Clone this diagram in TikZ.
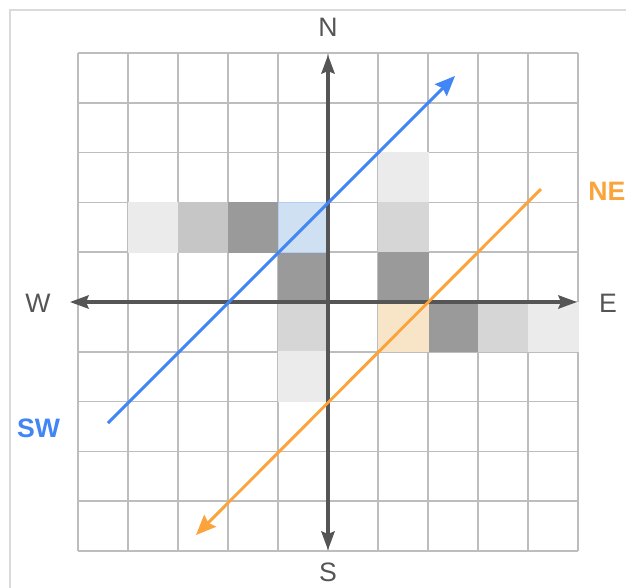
\documentclass[tikz,border=0pt]{standalone}
\usepackage{fontspec}
\setmainfont{Liberation Sans}
\usetikzlibrary{arrows.meta}
\definecolor{axisgray}{HTML}{555555}
\definecolor{gridc}{HTML}{BDBDBD}
\definecolor{framec}{HTML}{DADADA}
\definecolor{gA}{HTML}{EBEBEB}
\definecolor{gB}{HTML}{D6D6D6}
\definecolor{gC}{HTML}{C6C6C6}
\definecolor{gD}{HTML}{9A9A9A}
\definecolor{cellblue}{HTML}{CFE0F3}
\definecolor{cellorange}{HTML}{F8E5C8}
\definecolor{lineblue}{HTML}{4285F4}
\definecolor{lineorange}{HTML}{FBA43C}
\tikzset{
  gridline/.style={draw=gridc, line width=1.1pt},
  axisline/.style={draw=axisgray, line width=2.3pt, -{Stealth[length=14pt,width=10pt,inset=2pt]}},
  dirline/.style={line width=2.2pt, -{Stealth[length=15pt,width=12.5pt,inset=2pt]}},
  lab/.style={text=axisgray, inner sep=0pt, font=\fontsize{20}{24}\selectfont},
  dirlab/.style={inner sep=0pt, font=\fontsize{20}{24}\selectfont\bfseries},
  cellbox/.style={line width=0.6pt}
}
\begin{document}
\begin{tikzpicture}[x=0.75pt,y=-0.75pt]
\useasboundingbox (0,0) rectangle (626,587);
\clip (0,0) rectangle (626,587);
% outer frame
\draw[framec, line width=1.5pt] (10,600) -- (10,10) -- (640,10);
% grid
\foreach \i in {0,...,10} \draw[gridline] (78+50*\i,53) -- (78+50*\i,551);
\foreach \j in {0,...,10} \draw[gridline] (78,53+49.8*\j) -- (578,53+49.8*\j);
% shaded cells
\foreach \c/\r/\col in {1/3/gA, 2/3/gC, 3/3/gD, 6/2/gA, 6/3/gB, 4/4/gD, 6/4/gD, 4/5/gB, 7/5/gD, 8/5/gB, 9/5/gA, 4/6/gA}
  \filldraw[fill=\col, draw=\col, cellbox] (78+50*\c,53+49.8*\r) rectangle ++(50,49.8);
\filldraw[fill=cellblue, draw=cellblue!80!lineblue, cellbox] (278,53+49.8*3) rectangle ++(50,49.8);
\filldraw[fill=cellorange, draw=cellorange, cellbox] (378,53+49.8*5) rectangle ++(50,49.8);
% axes
\coordinate (wtip) at (70,302);
\coordinate (etip) at (577,302);
\coordinate (ntip) at (328,55);
\coordinate (stip) at (328,550);
\coordinate (origin) at (328,302);
\draw[axisline] (origin) -- (wtip);
\draw[axisline] (origin) -- (etip);
\draw[axisline] (origin) -- (ntip);
\draw[axisline] (origin) -- (stip);
% direction lines
\coordinate (bstart) at (108,423);
\coordinate (bend) at (455,76);
\coordinate (ostart) at (541,189);
\coordinate (oend) at (196,535);
\draw[dirline, lineblue] (bstart) -- (bend);
\draw[dirline, lineorange] (ostart) -- (oend);
% labels
\node[lab] (N) at (328,27) {N};
\node[lab] (S) at (328,572.5) {S};
\node[lab] (W) at (38,303) {W};
\node[lab] (E) at (608,303.5) {E};
\node[dirlab, text=lineblue] (SW) at (38.5,428) {SW};
\node[dirlab, text=lineorange, anchor=west] (NE) at (588,191.5) {NE};
\end{tikzpicture}
\end{document}
